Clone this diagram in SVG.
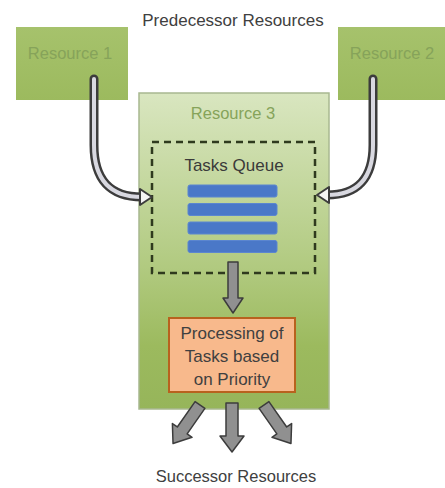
<svg xmlns="http://www.w3.org/2000/svg" width="445" height="488" viewBox="0 0 445 488">
<style>
.t{font-family:"Liberation Sans",Arial,sans-serif;text-anchor:middle}
.lbl{font-size:17px;fill:#404040}
.res{font-size:16.5px;fill:#86a35a}
.bar{fill:#4a78c8;stroke:#5b86d0;stroke-width:1}
.outer{fill:none;stroke:#3c3c3c;stroke-width:9;stroke-linecap:round}
.inner{fill:none;stroke:#d8d8e0;stroke-width:4;stroke-linecap:round}
.ahead{fill:#f4f4f4;stroke:#3c3c3c;stroke-width:2;stroke-linejoin:round}
.sarrow{fill:#909090;stroke:#3c3c3c;stroke-width:1.5;stroke-linejoin:round}
</style>
<defs>
<linearGradient id="g3" x1="0" y1="0" x2="0" y2="1">
<stop offset="0" stop-color="#d9e6c0"/>
<stop offset="0.55" stop-color="#b1ca80"/>
<stop offset="0.8" stop-color="#9cba5e"/>
<stop offset="1" stop-color="#96b55a"/>
</linearGradient>
<linearGradient id="g1" x1="0" y1="0" x2="0" y2="1">
<stop offset="0" stop-color="#a6c26c"/>
<stop offset="1" stop-color="#9cba5e"/>
</linearGradient>
</defs>
<rect width="445" height="488" fill="#ffffff"/>
<text class="t lbl" x="233" y="26">Predecessor Resources</text>
<g id="resource1">
<rect x="16" y="27" width="112" height="73" fill="url(#g1)"/>
<text class="t res" x="70" y="59">Resource 1</text>
</g>
<g id="resource2">
<rect x="338" y="27" width="107" height="73" fill="url(#g1)"/>
<text class="t res" x="392" y="59">Resource 2</text>
</g>
<g id="resource3">
<rect x="139" y="93" width="190" height="316" fill="url(#g3)" stroke="#a8b890" stroke-width="1.5"/>
<text class="t res" x="233" y="119">Resource 3</text>
</g>
<g id="tasks-queue">
<rect x="152" y="142" width="163" height="131" fill="none" stroke="#2f3a1e" stroke-width="2.5" stroke-dasharray="7,5"/>
<text class="t lbl" x="234" y="171" style="fill:#3a3a3a">Tasks Queue</text>
<rect class="bar" x="188" y="185" width="89" height="12" rx="2"/>
<rect class="bar" x="188" y="203.5" width="89" height="12" rx="2"/>
<rect class="bar" x="188" y="222" width="89" height="12" rx="2"/>
<rect class="bar" x="188" y="240.5" width="89" height="12" rx="2"/>
</g>
<g id="processing">
<rect x="169" y="318" width="126" height="74" fill="#f8b98c" stroke="#b8621e" stroke-width="2"/>
<text class="t lbl" x="232" y="339">Processing of</text>
<text class="t lbl" x="232" y="362">Tasks based</text>
<text class="t lbl" x="232" y="385">on Priority</text>
</g>
<text class="t lbl" x="236" y="482" style="font-size:16.5px">Successor Resources</text>
<g id="connectors">
<path class="outer" d="M94,79 V145 Q94,197 142,197"/>
<path class="inner" d="M94,79 V145 Q94,197 142,197"/>
<polygon class="ahead" points="140,189 152,197 140,205"/>
<path class="outer" d="M373,79 V145 Q373,195 327,195"/>
<path class="inner" d="M373,79 V145 Q373,195 327,195"/>
<polygon class="ahead" points="329,187 317,195 329,203"/>
<polygon class="sarrow" points="228,262 238,262 238,298 243,298 233,313 223,298 228,298"/>
<polygon class="sarrow" points="226,403 238,403 238,436 244,436 232,452 220,436 226,436"/>
<polygon class="sarrow" transform="rotate(35 200 405)" points="194,405 206,405 206,436 212,436 200,452 188,436 194,436"/>
<polygon class="sarrow" transform="rotate(-35 264 405)" points="258,405 270,405 270,436 276,436 264,452 252,436 258,436"/>
</g>
</svg>
